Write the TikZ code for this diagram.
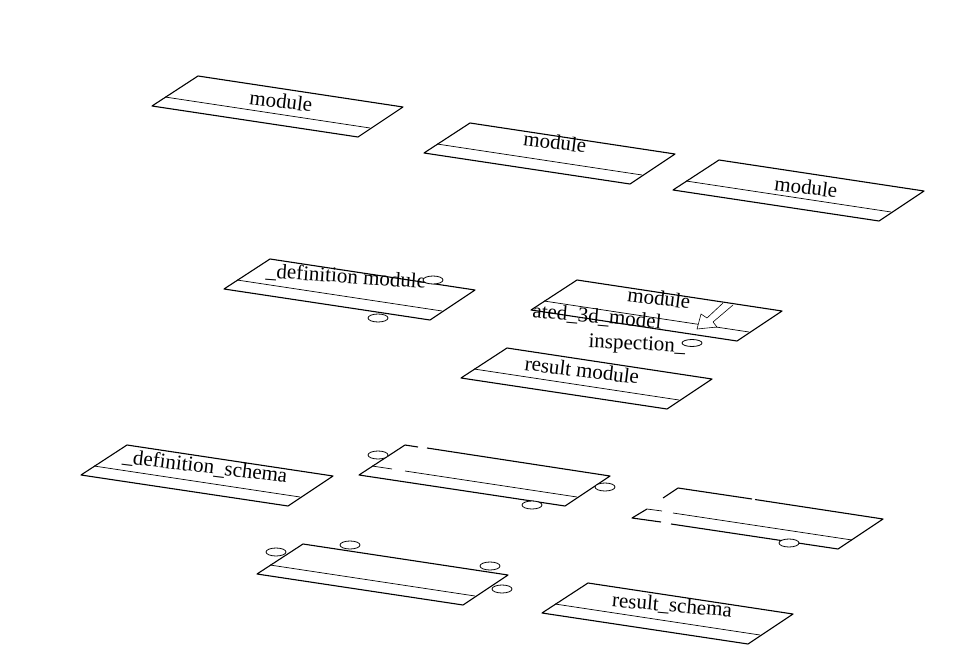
\documentclass[tikz,border=0pt]{standalone}
\usepackage{fontspec}
\setmainfont{Liberation Serif}
\usepackage{tikz}
\usetikzlibrary{calc}

\begin{document}
\begin{tikzpicture}[x=1pt, y=-1pt, line join=round,
        lbl/.style={inner sep=0pt, font=\fontsize{21}{24}\selectfont, rotate=-7},
        port/.style={draw, fill=white, line width=.8pt},
        edge/.style={line width=1.1pt},
        split/.style={line width=.7pt}]
        \useasboundingbox (0,0) rectangle (955,647);

        % plain boxes
        \draw[edge] (198,76) coordinate (M1) --++(205,31) --++(-45,30) --++(-206,-31) -- cycle;
        \draw[split] ($(M1)+(-33,21)$) --++(205,31);
        \draw[edge] (470,123) coordinate (M2) --++(205,31) --++(-45,30) --++(-206,-31) -- cycle;
        \draw[split] ($(M2)+(-33,21)$) --++(205,31);
        \draw[edge] (719,160) coordinate (M3) --++(205,31) --++(-45,30) --++(-206,-31) -- cycle;
        \draw[split] ($(M3)+(-33,21)$) --++(205,31);
        \draw[edge] (270,259) coordinate (M4) --++(205,31) --++(-45,30) --++(-206,-31) -- cycle;
        \draw[split] ($(M4)+(-33,21)$) --++(205,31);
        \draw[edge] (577,280) coordinate (M5) --++(205,31) --++(-45,30) --++(-206,-31) -- cycle;
        \draw[split] ($(M5)+(-33,21)$) --++(205,31);
        \draw[edge] (507,348) coordinate (M6) --++(205,31) --++(-45,30) --++(-206,-31) -- cycle;
        \draw[split] ($(M6)+(-33,21)$) --++(205,31);
        \draw[edge] (127,445) coordinate (S1) --++(206,31) --++(-45,30) --++(-207,-31) -- cycle;
        \draw[split] ($(S1)+(-33,21)$) --++(206,31);
        \draw[edge] (303,544) coordinate (S4) --++(205,31) --++(-45,30) --++(-206,-31) -- cycle;
        \draw[split] ($(S4)+(-33,21)$) --++(205,31);
        \draw[edge] (588,583) coordinate (S5) --++(205,31) --++(-45,30) --++(-206,-31) -- cycle;
        \draw[split] ($(S5)+(-33,21)$) --++(205,31);

        % boxes with broken lines
        \draw[edge] (405,445) coordinate (S2) -- (418,447);
        \draw[edge] (427,448) -- (610,476) coordinate (S2b) -- (565,506) -- (359,475) -- (S2);
        \draw[split] (372,466) -- (392,469);
        \draw[split] (405,471) -- (577,497);

        \draw[edge] (678,488) coordinate (S3) -- (752,499);
        \draw[edge] (755,499.5) -- (883,519) -- (838,549) -- (671,524);
        \draw[edge] (661,522) -- (632,518) -- (647,509);
        \draw[edge] (S3) -- (663,498);
        \draw[split] (647,509) -- (662,511);
        \draw[split] (673,513) -- (852,540);

        % hollow arrow
        \filldraw[fill=white, line width=.6pt] (723,303) coordinate (H1) -- (707,318) -- (701,314)
                -- (697,329) coordinate (H0) -- (717,327) -- (713,322) -- (733,305) coordinate (H2);

        % texts
        \node[lbl] (t1) at (281,101) {module};
        \node[lbl] (t2) at (555,142) {module};
        \node[lbl] (t3) at (806,187) {module};
        \node[lbl, rotate=3] (t4) at (346,277) {\_definition module};
        \node[lbl] (t5) at (659,298) {module};
        \node[lbl, rotate=2] (t6) at (597,317) {ated\_3d\_model};
        \node[lbl, rotate=4] (t7) at (637,345) {inspection\_};
        \node[lbl] (t8) at (582,370) {result module};
        \node[lbl] (t9) at (205,467) {\_definition\_schema};
        \node[lbl, rotate=2] (t10) at (672,606) {result\_schema};

        % small rings
        \filldraw[port] (433,280) coordinate (R1) ellipse[x radius=10pt, y radius=4pt];
        \filldraw[port] (378,318) coordinate (R2) ellipse[x radius=10pt, y radius=4pt];
        \filldraw[port] (692,343) coordinate (R3) ellipse[x radius=10pt, y radius=3.5pt];
        \filldraw[port] (378,455) coordinate (R4) ellipse[x radius=10pt, y radius=4pt];
        \filldraw[port] (605,487) coordinate (R5) ellipse[x radius=10pt, y radius=4pt];
        \filldraw[port] (532,505) coordinate (R6) ellipse[x radius=10pt, y radius=4pt];
        \filldraw[port] (789,543) coordinate (R7) ellipse[x radius=10pt, y radius=4pt];
        \filldraw[port] (276,552) coordinate (R8) ellipse[x radius=10pt, y radius=4pt];
        \filldraw[port] (350,545) coordinate (R9) ellipse[x radius=10pt, y radius=4pt];
        \filldraw[port] (490,566) coordinate (R10) ellipse[x radius=10pt, y radius=4pt];
        \filldraw[port] (502,589) coordinate (R11) ellipse[x radius=10pt, y radius=4pt];
\end{tikzpicture}
\end{document}
